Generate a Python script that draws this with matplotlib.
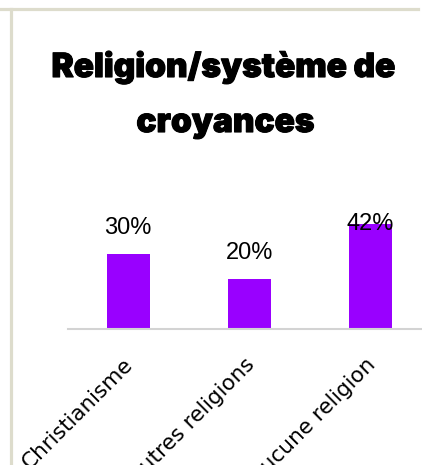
import matplotlib.pyplot as plt
import matplotlib.patheffects as pe
import matplotlib.transforms as mtransforms
from matplotlib.lines import Line2D

categories = ['Christianisme', 'Autres religions', 'Aucune religion']
values = [30, 20, 42]
labels = ['30%', '20%', '42%']

BAR_COLOR = '#9900ff'
FRAME_COLOR = '#dddccc'

fig = plt.figure(figsize=(4.22, 4.65), dpi=100)
ax = fig.add_axes([0.16, 0.2914, 0.861, 0.2366])

x = list(range(len(categories)))
ax.bar(x, values, width=0.355, color=BAR_COLOR, zorder=2)
ax.set_xlim(-0.5, 2.5)
ax.set_ylim(0, 44)

# étiquettes de valeur: au-dessus de la barre, sinon sur le haut de la barre
for xi, v, lab in zip(x, values, labels):
    y = v + 10.5
    if y > 44:
        y = v
    ax.text(xi, y, lab, ha='center', va='center', fontsize=17,
            family='Liberation Sans', color='black', clip_on=False, zorder=3)

ax.set_yticks([])
ax.set_xticks(x)
ax.set_xticklabels(categories, rotation=45, ha='right', rotation_mode='anchor',
                   fontsize=15.5, family='DejaVu Sans')
ax.tick_params(axis='x', length=0, pad=18)
shift = mtransforms.ScaledTranslation(-5 / 100, 0, fig.dpi_scale_trans)
for t in ax.get_xticklabels():
    t.set_transform(t.get_transform() + shift)
for s in ['top', 'right', 'left']:
    ax.spines[s].set_visible(False)
ax.spines['bottom'].set_color('#d3d3d3')
ax.spines['bottom'].set_linewidth(1.5)

bold = [pe.Stroke(linewidth=0.8, foreground='black'), pe.Normal()]
fig.text(0.529, 0.8344, 'Religion/système de', ha='center', va='baseline',
         fontsize=24, fontweight='black', family='Inter', path_effects=bold)
fig.text(0.534, 0.7161, 'croyances', ha='center', va='baseline',
         fontsize=24, fontweight='black', family='Inter', path_effects=bold)

# cadre de la carte
fig.add_artist(Line2D([0, 0.991], [0.9817, 0.9817], color=FRAME_COLOR, lw=2.3))
fig.add_artist(Line2D([0.0249, 0.0249], [0, 0.9817], color=FRAME_COLOR, lw=2.3))

fig.savefig('out.png', dpi=100)
